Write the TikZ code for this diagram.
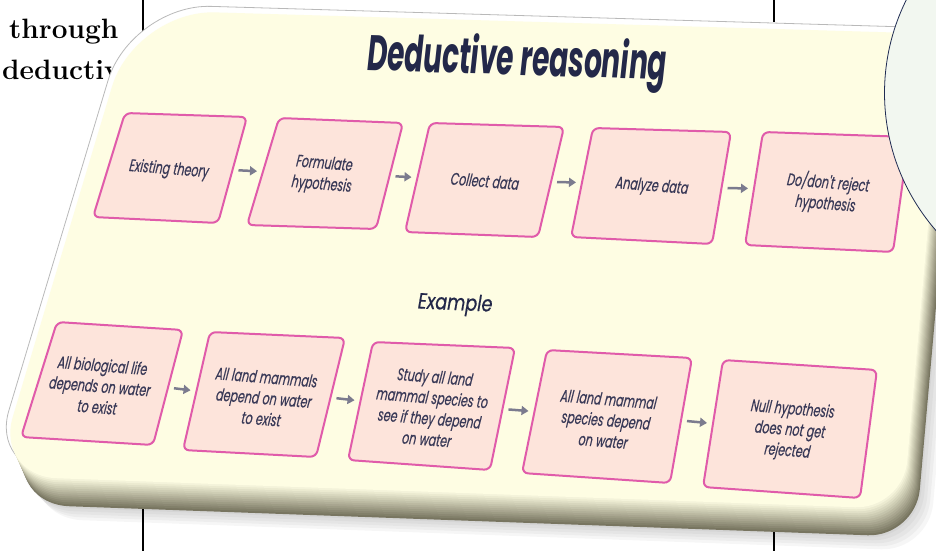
\documentclass[tikz,border=0pt]{standalone}
\usepackage{fontspec}
\usetikzlibrary{calc,arrows.meta}
\newfontfamily\popfont{Poppins}
\newfontfamily\popmed[FakeBold=0.6]{Poppins}
\definecolor{panel}{HTML}{FEFDE3}
\definecolor{bevel}{HTML}{5E5B47}
\definecolor{boxfill}{HTML}{FDE4DB}
\definecolor{boxline}{HTML}{E05BAA}
\definecolor{txt}{HTML}{3A3A58}
\definecolor{ttl}{HTML}{232849}
\definecolor{arrowc}{HTML}{7B7B8E}
\definecolor{circfill}{HTML}{F2F7F0}
\definecolor{circline}{HTML}{1F2B52}
\newcommand\panelshape{(65,243) [rounded corners=80pt] -- (135,10) [rounded corners=20pt] -- (945,34) [rounded corners=48pt] -- (903,509) [rounded corners=62pt] -- (-5,476) -- cycle}
\tikzset{
 boxshape/.style={draw=boxline, line width=2pt, fill=boxfill, rounded corners=6pt},
 boxtext/.style={font=\popmed\itshape\fontsize{17}{21}\selectfont, text=txt, align=center, xscale=0.65, rotate=-3, xslant=0.15, inner sep=0pt},
 arr/.style={draw=arrowc, line width=2.5pt, -{Triangle[length=7pt,width=9pt]}, shorten <=6pt, shorten >=6pt},
 sidetext/.style={font=\bfseries\fontsize{28}{28}\selectfont, anchor=base west, inner sep=0pt},
 rule/.style={line width=1.3pt, black},
}
\begin{document}
\begin{tikzpicture}[x=1pt,y=-1pt]
\useasboundingbox (0,0) rectangle (936,551);
% page background text and rules
\node[sidetext] (w1) at (9,38) {through};
\node[sidetext] (w2) at (2,79) {deductiv};
\draw[rule] (143,0) -- (143,37);
\draw[rule] (143,498) -- (143,551);
\draw[rule] (774,0) -- (774,22);
\draw[rule] (774,530) -- (774,551);
% panel shadow, halo, bevel, face
\foreach \i in {1,...,6}{
  \fill[black, opacity=0.035, shift={(8+3*\i,24+3*\i)}] \panelshape;
}
\draw[gray!55, line width=0.8pt, fill=white, shift={(-4,-6)}] \panelshape;
\foreach \i in {14,13,...,1}{
  \pgfmathsetmacro\pc{100-6*\i}
  \fill[panel!\pc!bevel, shift={(0.9*\i,2.0*\i)}] \panelshape;
}
\fill[panel] \panelshape;
% boxes
\foreach \n/\tl/\tr/\br/\bl in {
 1/{125,113}/{247,117}/{218,223}/{93,217},
 2/{279,118}/{403,123}/{376,229}/{247,225},
 3/{430,123}/{564,127}/{538,237}/{405,232},
 4/{593,128}/{731,132}/{712,244}/{571,237},
 5/{763,132}/{909,137}/{893,252}/{745,245},
 6/{57,322}/{183,330}/{153,445}/{21,437},
 7/{210,332}/{345,338}/{316,457}/{183,450},
 8/{373,342}/{515,348}/{490,470}/{348,460},
 9/{547,350}/{692,358}/{670,483}/{522,473},
 10/{723,360}/{877,370}/{860,498}/{703,487}}{
  \coordinate (b\n tl) at (\tl);
  \coordinate (b\n tr) at (\tr);
  \coordinate (b\n br) at (\br);
  \coordinate (b\n bl) at (\bl);
  \draw[boxshape] (b\n tl) -- (b\n tr) -- (b\n br) -- (b\n bl) -- cycle;
  \coordinate (b\n r) at ($(b\n tr)!.5!(b\n br)$);
  \coordinate (b\n l) at ($(b\n tl)!.5!(b\n bl)$);
}
% arrows
\foreach \a/\b in {1/2,2/3,3/4,4/5,6/7,7/8,8/9,9/10}{
  \draw[arr] (b\a r) -- (b\b l);
}
% texts
\node[font=\popfont\bfseries\itshape\fontsize{50}{50}\selectfont, text=ttl, xscale=0.56, rotate=-1, anchor=base] (title) at (517,75) {Deductive reasoning};
\node[font=\popmed\itshape\fontsize{22}{22}\selectfont, text=ttl, xscale=0.8, rotate=-2, anchor=base] (example) at (455,310) {Example};
\node[boxtext] (t1) at (169,170) {Existing theory};
\node[boxtext] (t2) at (323,175) {Formulate\\hypothesis};
\node[boxtext] (t3) at (485,181) {Collect data};
\node[boxtext] (t4) at (652,187) {Analyze data};
\node[boxtext] (t5) at (827,193) {Do/don't reject\\hypothesis};
\node[boxtext] (t6) at (100,386) {All biological life\\depends on water\\to exist};
\node[boxtext] (t7) at (264,398) {All land mammals\\depend on water\\to exist};
\node[boxtext] (t8) at (431,408) {Study all land\\mammal species to\\see if they depend\\on water};
\node[boxtext] (t9) at (606,420) {All land mammal\\species depend\\on water};
\node[boxtext] (t10) at (790,431) {Null hypothesis\\does not get\\rejected};
% circle
\node[circle, draw=circline, line width=0.8pt, fill=circfill, minimum size=419pt, inner sep=0pt] (circ) at (1094,93) {};
\end{tikzpicture}
\end{document}
